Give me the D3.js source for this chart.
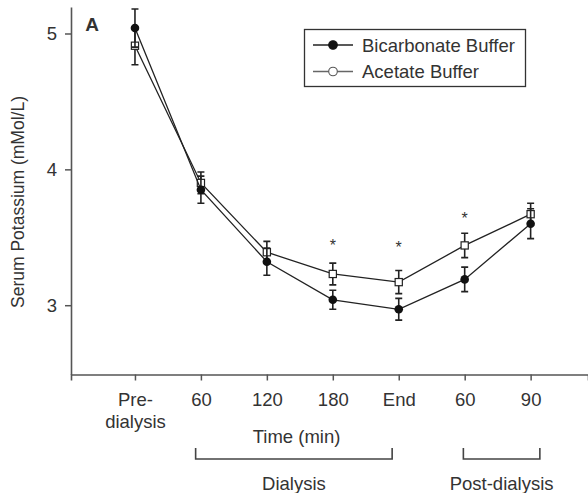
<!DOCTYPE html>
<html><head><meta charset="utf-8">
<script src="https://cdn.jsdelivr.net/npm/d3@7"></script>
<style>body{margin:0;background:#fff}svg{display:block}text{font-family:"Liberation Sans",Arial,Helvetica,sans-serif;fill:#333}</style>
</head><body>
<svg id="c" width="588" height="493"></svg>
<script>
const categories = ["Pre-\ndialysis","60","120","180","End","60","90"];
const bicarbonate = [5.04, 3.85, 3.32, 3.04, 2.97, 3.19, 3.60];
const bicarbonateErr = [0.14, 0.10, 0.10, 0.07, 0.08, 0.09, 0.11];
const acetate = [4.91, 3.90, 3.39, 3.23, 3.17, 3.44, 3.67];
const acetateErr = [0.14, 0.08, 0.08, 0.08, 0.085, 0.09, 0.08];
const starIndex = [3, 4, 5];
const starLevel = [3.46, 3.44, 3.66];
const yTicks = [3, 4, 5];
const groups = [{label:"Dialysis", from:0.92, to:3.9}, {label:"Post-dialysis", from:4.98, to:6.14}];

const svg = d3.select("#c");
const x = d3.scaleLinear().domain([-0.97, 6.87]).range([71, 588]);
const y = d3.scaleLinear().domain([2.49, 5.195]).range([374.5, 7]);
const fs = 18.5;

// y axis
const ya = svg.append("g").attr("transform","translate(71,0)")
  .call(d3.axisLeft(y).tickValues(yTicks).tickSize(6).tickSizeOuter(0).tickPadding(8).tickFormat(d3.format("d")));
ya.select(".domain").attr("stroke","#555").attr("stroke-width",1.6);
ya.selectAll(".tick line").attr("stroke","#555").attr("stroke-width",1.5);
ya.selectAll(".tick text").style("font-size",fs+"px").attr("fill","#333");

// x axis
const xa = svg.append("g").attr("transform","translate(0,374.5)")
  .call(d3.axisBottom(x).tickValues(d3.range(categories.length)).tickSize(6).tickSizeOuter(6).tickPadding(12).tickFormat(""));
xa.select(".domain").attr("stroke","#555").attr("stroke-width",1.6);
xa.selectAll(".tick line").attr("stroke","#555").attr("stroke-width",1.5);
xa.selectAll(".tick").each(function(d){
  const lines = categories[d].split("\n");
  const t = d3.select(this).append("text").attr("text-anchor","middle").style("font-size",fs+"px").attr("fill","#333");
  lines.forEach((l,i)=> t.append("tspan").attr("x",0).attr("y",31 + i*22).text(l));
});

// axis titles
svg.append("text").attr("transform","translate(24,202) rotate(-90)").attr("text-anchor","middle")
  .style("font-size","17.5px").text("Serum Potassium (mMol/L)");
svg.append("text").attr("x",x(2.45)).attr("y",443).attr("text-anchor","middle").style("font-size",fs+"px").text("Time (min)");
svg.append("text").attr("x",92).attr("y",31).attr("text-anchor","middle").style("font-size","19px").style("font-weight","bold").attr("fill","#222").text("A");

// group brackets
groups.forEach(g=>{
  const x0 = x(g.from), x1 = x(g.to);
  svg.append("path").attr("d",`M${x0},448V459H${x1}V448`).attr("fill","none").attr("stroke","#444").attr("stroke-width",1.6);
  svg.append("text").attr("x",(x0+x1)/2).attr("y",490).attr("text-anchor","middle").style("font-size",fs+"px").text(g.label);
});

// series
const line = d3.line().x((d,i)=>x(i)).y(d=>y(d));
function series(vals, errs, filled){
  svg.append("path").datum(vals).attr("d",line).attr("fill","none").attr("stroke","#222").attr("stroke-width",1.3);
  const g = svg.append("g");
  vals.forEach((v,i)=>{
    const cx = x(i), t = y(v+errs[i]), b = y(v-errs[i]);
    g.append("path").attr("d",`M${cx},${t}V${b}M${cx-3.5},${t}H${cx+3.5}M${cx-3.5},${b}H${cx+3.5}`)
      .attr("stroke","#222").attr("stroke-width",1.6).attr("fill","none");
  });
  vals.forEach((v,i)=>{
    if(filled) g.append("circle").attr("cx",x(i)).attr("cy",y(v)).attr("r",4.3).attr("fill","#111");
    else g.append("rect").attr("x",x(i)-3.6).attr("y",y(v)-3.6).attr("width",7.2).attr("height",7.2)
      .attr("fill","#fff").attr("stroke","#222").attr("stroke-width",1.2);
  });
}
series(acetate, acetateErr, false);
series(bicarbonate, bicarbonateErr, true);

// significance stars
starIndex.forEach((k,j)=>{
  svg.append("text").attr("x",x(k)).attr("y",y(starLevel[j])+8).attr("text-anchor","middle")
    .style("font-size","16px").attr("fill","#333").text("*");
});

// legend
const lg = svg.append("g");
lg.append("rect").attr("x",304.5).attr("y",29.5).attr("width",221).attr("height",57).attr("fill","#fff").attr("stroke","#333").attr("stroke-width",1.3);
const legendItems = [{name:"Bicarbonate Buffer", filled:true},{name:"Acetate Buffer", filled:false}];
legendItems.forEach((it,i)=>{
  const ly = 45 + i*26.5;
  lg.append("line").attr("x1",313).attr("x2",353).attr("y1",ly).attr("y2",ly).attr("stroke",it.filled?"#222":"#666").attr("stroke-width",1.4);
  lg.append("circle").attr("cx",333).attr("cy",ly).attr("r",4.3).attr("fill",it.filled?"#111":"#fff").attr("stroke",it.filled?"#111":"#555").attr("stroke-width",1.1);
  lg.append("text").attr("x",362).attr("y",ly+6.5).style("font-size",fs+"px").attr("fill","#333").text(it.name);
});
</script>
</body></html>
